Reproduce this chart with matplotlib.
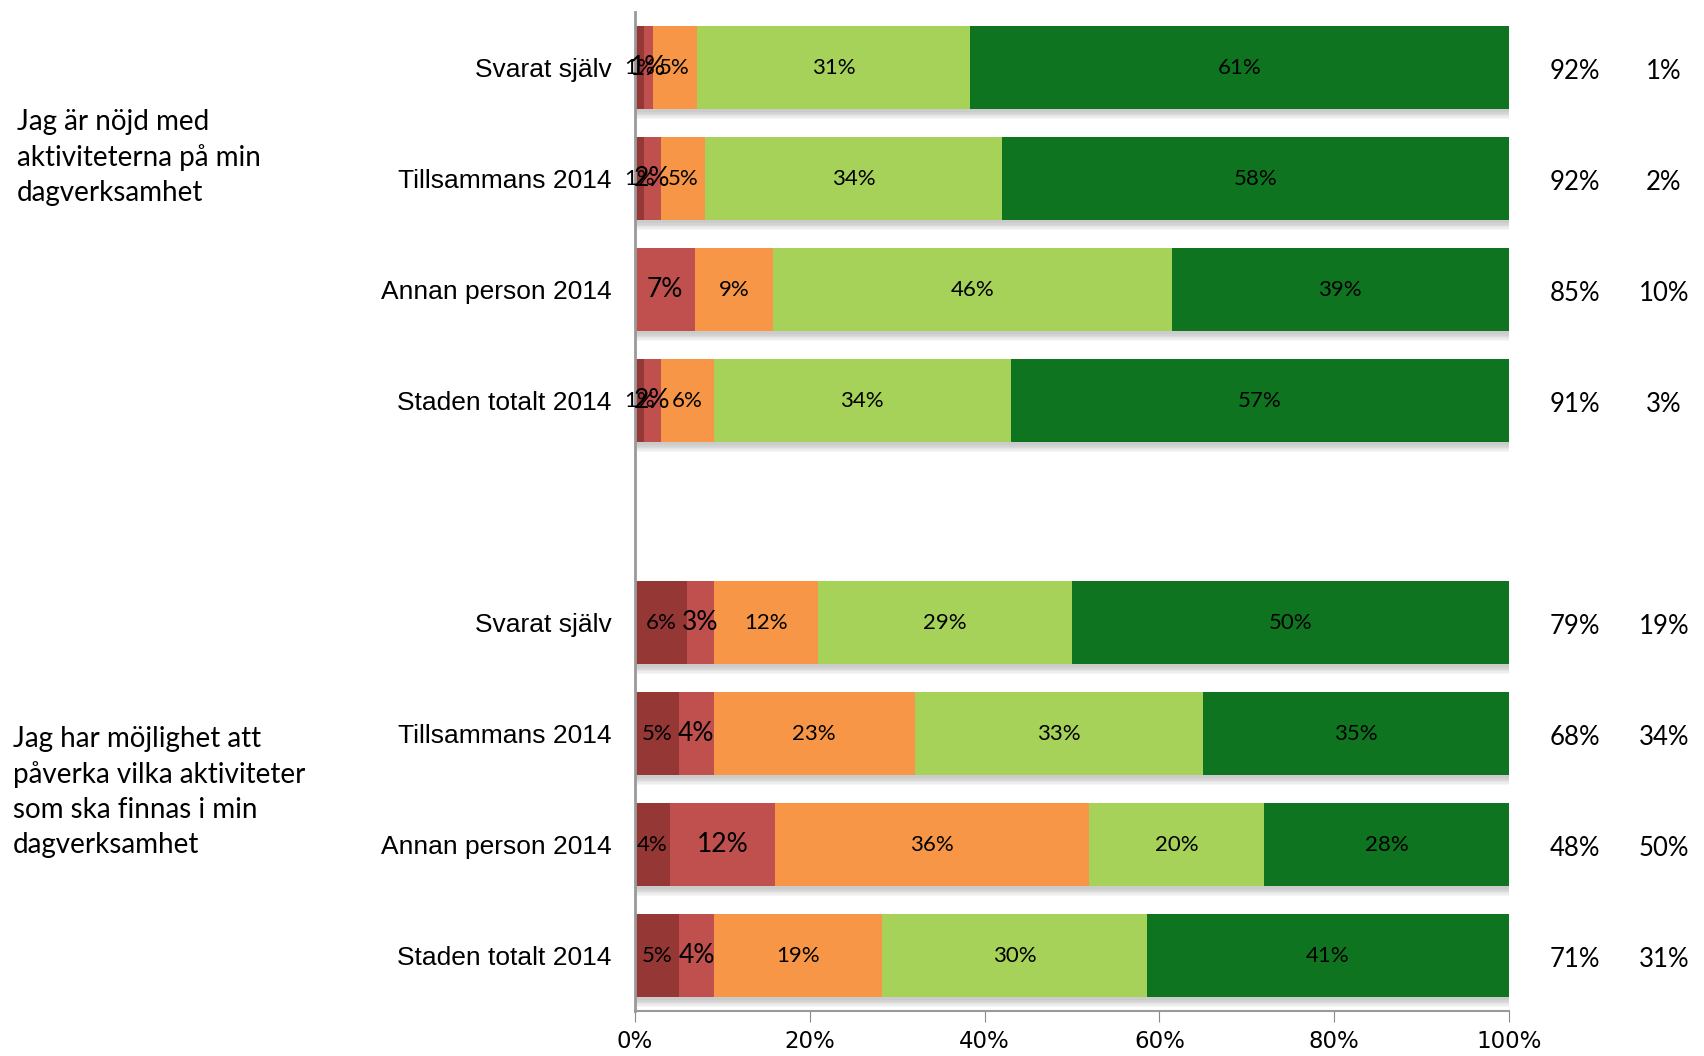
import matplotlib.pyplot as plt
import numpy as np

# response shares per row (%), from "very poor" to "very good"
rows = ["Svarat själv", "Tillsammans 2014", "Annan person 2014", "Staden totalt 2014",
        "Svarat själv", "Tillsammans 2014", "Annan person 2014", "Staden totalt 2014"]
dark_red = [1, 1, 0, 1, 6, 5, 4, 5]
red = [1, 2, 7, 2, 3, 4, 12, 4]
orange = [5, 5, 9, 6, 12, 23, 36, 19]
light_green = [31, 34, 46, 34, 29, 33, 20, 30]
dark_green = [61, 58, 39, 57, 50, 35, 28, 41]

# summary columns to the right of the bars
positive = ["92%", "92%", "85%", "91%", "79%", "68%", "48%", "71%"]
negative = ["1%", "2%", "10%", "3%", "19%", "34%", "50%", "31%"]

questions = ["Jag är nöjd med\naktiviteterna på min\ndagverksamhet",
             "Jag har möjlighet att\npåverka vilka aktiviteter\nsom ska finnas i min\ndagverksamhet"]

colors = ["#953735", "#C0504D", "#F79646", "#A6D25A", "#0F7420"]
series = [dark_red, red, orange, light_green, dark_green]

# y slots: four rows, an empty slot, four rows
ypos = np.array([0, 1, 2, 3, 5, 6, 7, 8])
data = np.array(series, dtype=float)
shares = data / data.sum(axis=0) * 100

fig = plt.figure(figsize=(17.04, 10.56), dpi=100)
ax = fig.add_axes([0.3726, 0.0426, 0.513, 0.946])

h = 0.75
# soft shadow under each bar
for k in range(6):
    ax.barh(ypos + 0.03 + k * 0.012, 100, height=h, left=0,
            color="#000000", alpha=0.035, linewidth=0, zorder=1)

left = np.zeros(len(ypos))
for i, (vals, sh, c) in enumerate(zip(series, shares, colors)):
    ax.barh(ypos, sh, height=h, left=left, color=c, linewidth=0, zorder=2)
    for y, v, s, l in zip(ypos, vals, sh, left):
        if v == 0:
            continue
        size = 19 if i == 1 else 16
        ax.text(l + s / 2, y, f"{v}%", ha="center", va="center",
                fontsize=size, family="Lato", color="black", zorder=3)
    left += sh

ax.set_xlim(0, 100)
ax.set_ylim(8.5, -0.5)
ax.set_xticks(np.arange(0, 101, 20))
ax.set_xticklabels([f"{t}%" for t in range(0, 101, 20)], family="Liberation Sans Narrow",
                   fontsize=16.5)
ax.tick_params(axis="x", length=8, color="#888888", pad=6)
ax.set_yticks(ypos)
ax.set_yticklabels(rows, family="Liberation Sans", fontsize=19)
ax.tick_params(axis="y", length=0, pad=17)
for s in ["top", "right"]:
    ax.spines[s].set_visible(False)
ax.spines["left"].set_color("#999999")
ax.spines["left"].set_linewidth(2)
ax.spines["bottom"].set_color("#999999")
ax.spines["bottom"].set_linewidth(1.5)

# summary columns
tr = ax.get_yaxis_transform()
for y, p, n in zip(ypos, positive, negative):
    ax.text(1.075, y + 0.04, p, transform=tr, ha="center", va="center",
            fontsize=18.5, family="Lato")
    ax.text(1.177, y + 0.04, n, transform=tr, ha="center", va="center",
            fontsize=18.5, family="Lato")

# question texts on the left
fig.text(0.01, 0.851, questions[0], ha="left", va="center", fontsize=20,
         family="Lato", linespacing=1.42)
fig.text(0.0077, 0.25, questions[1], ha="left", va="center", fontsize=20,
         family="Lato", linespacing=1.42)

fig.savefig("out.png", dpi=100)
